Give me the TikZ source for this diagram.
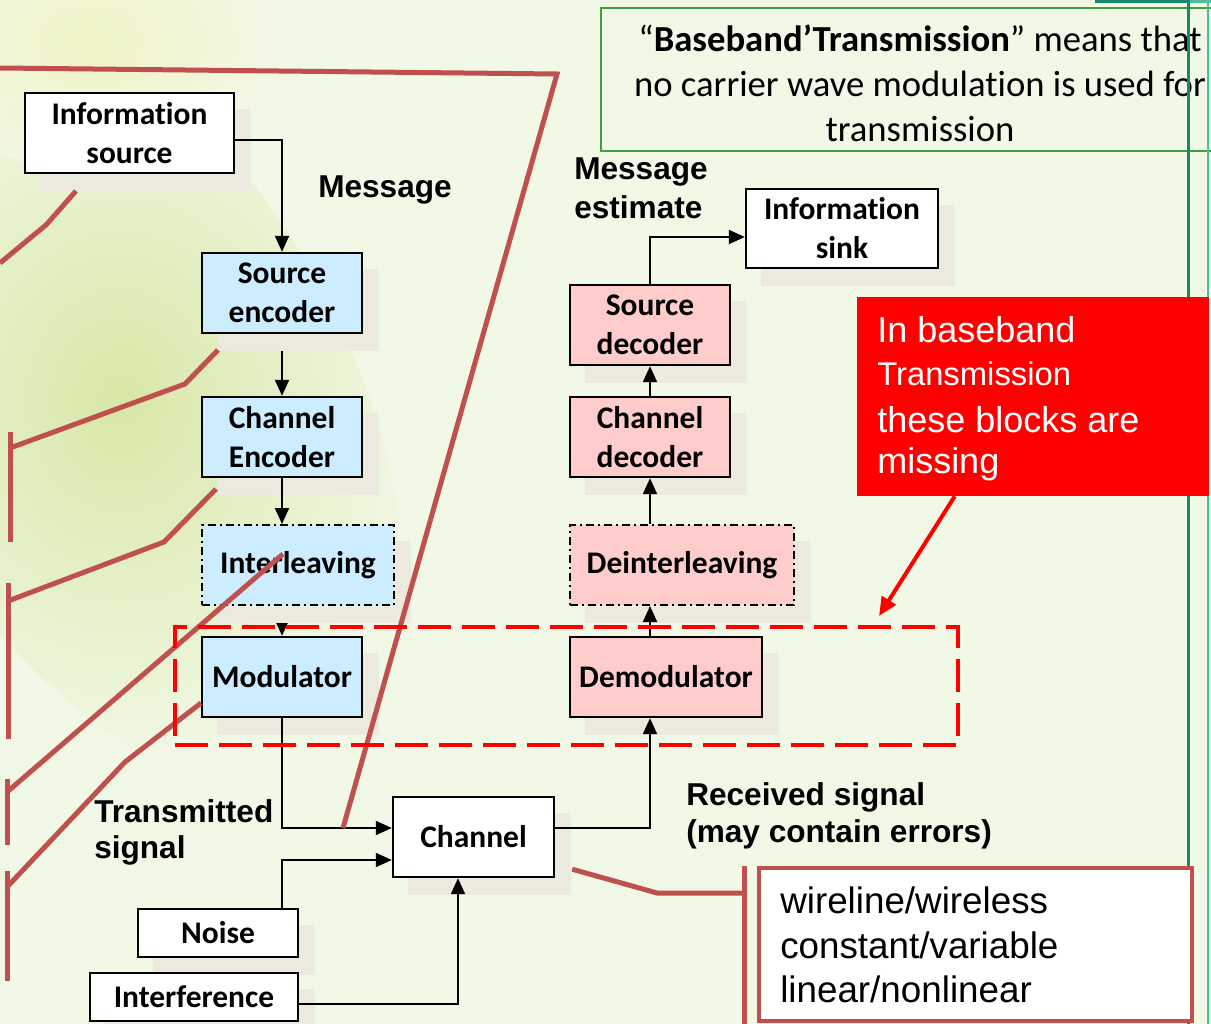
\documentclass[tikz,border=0pt]{standalone}
\usepackage{fontspec}
\usetikzlibrary{calc,fit,arrows.meta}
\newfontfamily\carlito[Ligatures=NoCommon]{Carlito}
\newfontfamily\arialf{Liberation Sans}
\definecolor{slidebg}{RGB}{242,248,230}
\definecolor{leafc}{RGB}{216,231,166}
\definecolor{leafy}{RGB}{240,242,190}
\definecolor{blockblue}{RGB}{204,236,255}
\definecolor{blockpink}{RGB}{255,204,204}
\definecolor{shadowc}{RGB}{236,233,222}
\definecolor{calloutred}{RGB}{192,80,77}
\definecolor{framegreen}{RGB}{60,160,60}
\definecolor{tealdark}{RGB}{25,135,105}
\definecolor{teallight}{RGB}{80,190,155}
\pgfdeclarelayer{bglayer}
\pgfdeclarelayer{shadowlayer}
\pgfsetlayers{bglayer,shadowlayer,main}
\tikzset{
  blk/.style={draw=black, line width=1.8pt, inner sep=0pt, align=center,
    minimum width=120pt, minimum height=60pt,
    font=\carlito\bfseries\fontsize{23.6pt}{29.25pt}\selectfont},
  whiteblk/.style={blk, fill=white},
  blueblk/.style={blk, fill=blockblue},
  pinkblk/.style={blk, fill=blockpink},
  dashdotted border/.style={dash pattern=on 6pt off 3pt on 1.5pt off 3pt, line width=1.5pt},
  conn/.style={draw=black, line width=1.5pt, -{Triangle[length=12pt,width=10.5pt]}},
  lbl/.style={anchor=base west, inner sep=0pt,
    font=\arialf\bfseries\fontsize{23.7pt}{28pt}\selectfont},
  gtext/.style={anchor=base, inner sep=0pt,
    font=\carlito\fontsize{27.5pt}{33pt}\selectfont},
  rtext/.style={anchor=base west, inner sep=0pt, text=white,
    font=\arialf\fontsize{27pt}{32pt}\selectfont},
  wtext/.style={anchor=base west, inner sep=0pt,
    font=\arialf\fontsize{27.6pt}{33pt}\selectfont},
  callout/.style={draw=calloutred, line width=3.75pt},
}
\begin{document}
\begin{tikzpicture}[x=0.75pt,y=-0.75pt]
\useasboundingbox (0,0) rectangle (1211,1024);
\clip (0,0) rectangle (1211,1024);

% slide background with a soft leaf on the left
\begin{pgfonlayer}{bglayer}
  \fill[slidebg] (0,0) rectangle (1211,1024);
  \begin{scope}[shift={(120,400)}, rotate=-62]
    \shade[inner color=leafc, outer color=slidebg] (0,0) ellipse [x radius=420, y radius=230];
  \end{scope}
  \shade[inner color=leafy, outer color=slidebg, opacity=0.8] (90,40) ellipse [x radius=190, y radius=130];
\end{pgfonlayer}

% definition frame at the top right
\node[draw=framegreen, line width=1.5pt, fit={(601,8)(1240,151)}, inner sep=0pt] (defbox) {};
\node[gtext] (def1) at (920,52) {“\textbf{Baseband’Transmission}” means that};
\node[gtext] (def2) at (920,97) {no carrier wave modulation is used for};
\node[gtext] (def3) at (920,142) {transmission};

% slide frame lines
\fill[tealdark] (1095,0) rectangle (1190,3);
\fill[teallight] (1190,0) rectangle (1211,3);
\draw[tealdark, line width=2.25pt] (1188.5,0) -- (1188.5,1024);
\draw[teallight, line width=1.5pt] (1208,0) -- (1208,1024);

% transmitter chain
\node[whiteblk, minimum width=156.75pt] (isrc) at (129.5,133) {Information\\source};
\node[blueblk] (senc) at (282,293) {Source\\encoder};
\node[blueblk] (cenc) at (282,437) {Channel\\Encoder};
\node[blueblk, dashdotted border, minimum width=144pt] (intl) at (298,565) {Interleaving};
\node[blueblk] (modu) at (282,677) {Modulator};

% channel and disturbances
\node[whiteblk, minimum width=120.75pt] (chan) at (473.5,837) {Channel};
\node[whiteblk, minimum height=36pt] (noise) at (218,933) {Noise};
\node[whiteblk, minimum width=156pt, minimum height=36pt] (intf) at (194,997) {Interference};

% receiver chain
\node[pinkblk, minimum width=144pt] (demod) at (666,677) {Demodulator};
\node[pinkblk, dashdotted border, minimum width=168pt] (dintl) at (682,565) {Deinterleaving};
\node[pinkblk] (cdec) at (650,437) {Channel\\decoder};
\node[pinkblk] (sdec) at (650,325) {Source\\decoder};
\node[whiteblk, minimum width=144pt, minimum height=59.25pt] (sink) at (842,228.5) {Information\\sink};

% block shadows, with the two links that run under them
\begin{pgfonlayer}{shadowlayer}
  \draw[conn] (senc.south) -- (cenc.north);
  \draw[conn] (modu.north |- intl.south) -- (modu.north);
  \foreach \n in {isrc,senc,cenc,intl,modu,chan,noise,intf,demod,dintl,cdec,sdec,sink}
    \fill[shadowc] ($(\n.south west)+(16,17)$) rectangle ($(\n.north east)+(16,17)$);
\end{pgfonlayer}

% signal flow
\draw[conn] ($(isrc.east)+(0,7)$) -| (senc.north);
\draw[conn] (cenc.south) -- (cenc.south |- intl.north);
\draw[conn] (modu.south) |- ($(chan.west)+(0,-9)$);
\draw[conn] ($(noise.north)+(64,0)$) |- ($(chan.west)+(0,23)$);
\draw[conn] ($(intf.east)+(0,7)$) -| ($(chan.south)+(-15.5,0)$);
\draw[conn] ($(chan.east)+(0,-9)$) -| (cdec.south |- demod.south);
\draw[conn] (cdec.south |- demod.north) -- (cdec.south |- dintl.south);
\draw[conn] (cdec.south |- dintl.north) -- (cdec.south);
\draw[conn] (cdec.north) -- (sdec.south);
\draw[conn] (sdec.north) |- ($(sink.west)+(0,8.5)$);

% signal labels
\node[lbl] (msg) at (318,197) {Message};
\node[lbl] (mest1) at (574,180) {Message};
\node[lbl] (mest2) at (574,218) {estimate};
\node[lbl] (tx1) at (94,822) {Transmitted};
\node[lbl] (tx2) at (94,858) {signal};
\node[lbl] (rx1) at (686,805) {Received signal};
\node[lbl] (rx2) at (686,842) {(may contain errors)};

% callout lines on the left
\draw[callout] (0,68) -- (557,74) -- (343,828);
\draw[callout] (76,191) -- (46,225) -- (0,263);
\draw[callout] (218,350) -- (185,384) -- (10,448);
\draw[callout] (10,432) -- (10,542);
\draw[callout] (216,489) -- (164,542) -- (8,601);
\draw[callout] (8,583) -- (8,739);
\draw[callout] (283,554) -- (7,792);
\draw[callout] (7,779) -- (7,845);
\draw[callout] (201,703) -- (125,762) -- (7,887);
\draw[callout] (7,871) -- (7,981);

% blocks missing in baseband transmission
\node[draw=red, line width=3pt, dash pattern=on 24.75pt off 8.25pt,
      fit={(175,627)(958,745)}, inner sep=0pt] (bbmiss) {};
\node[fill=red, fit={(857,297)(1209,496)}, inner sep=0pt] (note) {};
\node[rtext] (note1) at (877,342) {In baseband};
\node[rtext, font=\arialf\fontsize{24.6pt}{30pt}\selectfont] (note2) at (877,385) {Transmission};
\node[rtext] (note3) at (877,432) {these blocks are};
\node[rtext] (note4) at (877,473) {missing};
\coordinate (notetip) at (879,616);
\draw[red, line width=3pt, -{Triangle[length=14pt,width=12pt]}] ($(note.south west)+(98,0)$) -- (notetip);

% channel properties
\node[draw=calloutred, line width=3pt, fill=white, fit={(759,868)(1192,1021)}, inner sep=0pt] (wbox) {};
\node[wtext] (w1) at (780,913) {wireline/wireless};
\node[wtext] (w2) at (780,958) {constant/variable};
\node[wtext] (w3) at (780,1002) {linear/nonlinear};
\draw[callout] ($(chan.south east)+(17,-9)$) -- (657,893) -- (744,893);
\draw[callout] (744,866) -- (744,1024);
\end{tikzpicture}
\end{document}
